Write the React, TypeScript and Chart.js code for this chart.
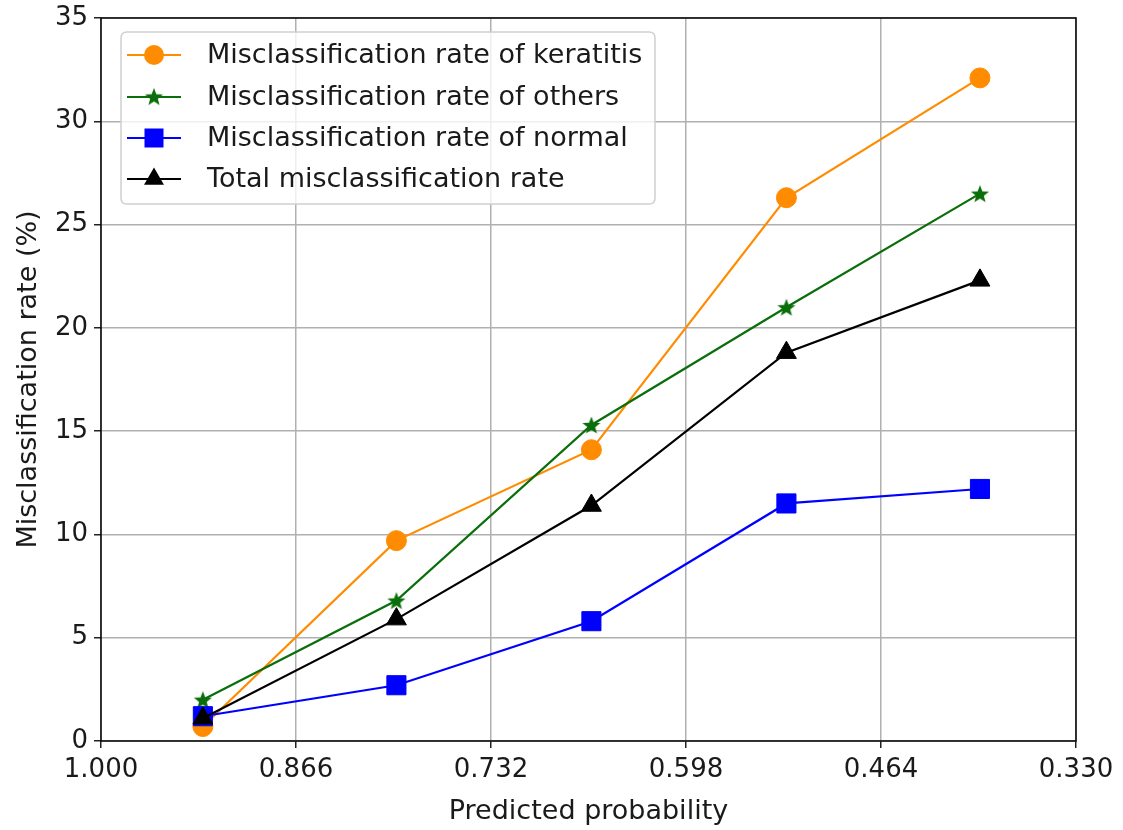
import React, { useEffect, useRef } from "react";
import { Chart, registerables } from "chart.js";

Chart.register(...registerables);

const probabilities = [0.93, 0.797, 0.663, 0.529, 0.396];
const keratitisRate = [0.7, 9.7, 14.1, 26.3, 32.1];
const othersRate = [2.0, 6.8, 15.3, 21.0, 26.5];
const normalRate = [1.2, 2.7, 5.8, 11.5, 12.2];
const totalRate = [1.1, 5.9, 11.4, 18.8, 22.3];
const xTicks = [1.0, 0.866, 0.732, 0.598, 0.464, 0.33];
const seriesNames = [
  "Misclassification rate of keratitis",
  "Misclassification rate of others",
  "Misclassification rate of normal",
  "Total misclassification rate",
];

const FONT = "'DejaVu Sans', sans-serif";
const ORANGE = "#ff8c00";
const GREEN = "#0a6e0a";
const BLUE = "#0000ff";
const BLACK = "#000000";
const TEXT = "#1a1a1a";

function makeStar(color: string, size: number) {
  const c = document.createElement("canvas");
  c.width = size;
  c.height = size;
  const ctx = c.getContext("2d")!;
  const cx = size / 2;
  const cy = size / 2 + 0.9;
  const R = size / 2 - 0.5;
  const r = R * 0.42;
  ctx.beginPath();
  for (let i = 0; i < 10; i++) {
    const rad = i % 2 === 0 ? R : r;
    const a = -Math.PI / 2 + (i * Math.PI) / 5;
    const px = cx + rad * Math.cos(a);
    const py = cy + rad * Math.sin(a);
    if (i === 0) ctx.moveTo(px, py);
    else ctx.lineTo(px, py);
  }
  ctx.closePath();
  ctx.fillStyle = color;
  ctx.fill();
  return c;
}

function pts(ys: number[]) {
  return probabilities.map((x, i) => ({ x, y: ys[i] }));
}

export default function App() {
  const ref = useRef<HTMLCanvasElement | null>(null);

  useEffect(() => {
    if (!ref.current) return;
    const star = makeStar(GREEN, 20);

    const markers: any[] = ["circle", star, "rect", "triangle"];
    const colors = [ORANGE, GREEN, BLUE, BLACK];
    const radii = [10, 10, 13.5, 11.5];

    const framePlugin = {
      id: "frameLegend",
      afterDatasetsDraw(chart: any) {
        const { ctx, chartArea } = chart;
        ctx.save();
        ctx.strokeStyle = "#000";
        ctx.lineWidth = 1.5;
        ctx.strokeRect(
          chartArea.left,
          chartArea.top,
          chartArea.right - chartArea.left,
          chartArea.bottom - chartArea.top
        );
        // legend
        const bx = 121, by = 32, bw = 534, bh = 172, rr = 6;
        ctx.beginPath();
        ctx.moveTo(bx + rr, by);
        ctx.lineTo(bx + bw - rr, by);
        ctx.quadraticCurveTo(bx + bw, by, bx + bw, by + rr);
        ctx.lineTo(bx + bw, by + bh - rr);
        ctx.quadraticCurveTo(bx + bw, by + bh, bx + bw - rr, by + bh);
        ctx.lineTo(bx + rr, by + bh);
        ctx.quadraticCurveTo(bx, by + bh, bx, by + bh - rr);
        ctx.lineTo(bx, by + rr);
        ctx.quadraticCurveTo(bx, by, bx + rr, by);
        ctx.closePath();
        ctx.fillStyle = "rgba(255,255,255,0.8)";
        ctx.fill();
        ctx.strokeStyle = "#d0d0d0";
        ctx.lineWidth = 1.5;
        ctx.stroke();
        const rowY = [55, 97, 138, 179];
        const mx = 154;
        for (let i = 0; i < 4; i++) {
          const y = rowY[i];
          ctx.strokeStyle = colors[i];
          ctx.lineWidth = 2;
          ctx.beginPath();
          ctx.moveTo(127, y);
          ctx.lineTo(181, y);
          ctx.stroke();
          ctx.fillStyle = colors[i];
          if (i === 0) {
            ctx.beginPath();
            ctx.arc(mx, y, 10, 0, Math.PI * 2);
            ctx.fill();
          } else if (i === 1) {
            ctx.drawImage(star, mx - 10, y - 10.5);
          } else if (i === 2) {
            ctx.fillRect(mx - 9.5, y - 9.5, 19, 19);
          } else {
            const r = 11.5;
            ctx.beginPath();
            ctx.moveTo(mx, y - r);
            ctx.lineTo(mx + r * Math.sin((2 * Math.PI) / 3), y - r * Math.cos((2 * Math.PI) / 3));
            ctx.lineTo(mx + r * Math.sin((4 * Math.PI) / 3), y - r * Math.cos((4 * Math.PI) / 3));
            ctx.closePath();
            ctx.fill();
          }
          ctx.fillStyle = TEXT;
          ctx.font = `27px ${FONT}`;
          ctx.textBaseline = "middle";
          ctx.textAlign = "left";
          ctx.fillText(seriesNames[i], 207, y + 1);
        }
        ctx.restore();
      },
    };

    const datasets = [keratitisRate, othersRate, normalRate, totalRate].map((ys, i) => ({
      label: seriesNames[i],
      data: pts(ys),
      borderColor: colors[i],
      backgroundColor: colors[i],
      borderWidth: 2.2,
      pointStyle: markers[i],
      pointRadius: radii[i],
      pointBorderWidth: 1,
      pointBorderColor: colors[i],
      pointBackgroundColor: colors[i],
      order: 4 - i,
      tension: 0,
    }));

    const chart = new Chart(ref.current, {
      type: "line",
      data: { datasets },
      plugins: [framePlugin],
      options: {
        animation: false,
        responsive: false,
        maintainAspectRatio: false,
        layout: { padding: { left: 0, right: 47, top: 18, bottom: 0 } },
        plugins: {
          legend: { display: false },
          tooltip: { enabled: false },
        },
        scales: {
          x: {
            type: "linear",
            reverse: true,
            min: 0.33,
            max: 1.0,
            afterBuildTicks: (axis: any) => {
              axis.ticks = xTicks.map((v) => ({ value: v }));
            },
            afterFit: (axis: any) => {
              axis.height = 89;
              axis.paddingLeft = 0;
              axis.paddingRight = 0;
            },
            ticks: {
              callback: (v: any) => Number(v).toFixed(3),
              font: { family: FONT, size: 26 },
              color: TEXT,
              padding: 7,
              maxRotation: 0,
              autoSkip: false,
            },
            grid: {
              color: "#b0b0b0",
              lineWidth: 1.5,
              tickColor: "#222",
              tickLength: 7,
              drawTicks: true,
            },
            border: { display: false },
            title: {
              display: true,
              text: "Predicted probability",
              font: { family: FONT, size: 27 },
              color: TEXT,
              padding: { top: 0, bottom: 2 },
            },
          },
          y: {
            type: "linear",
            min: 0,
            max: 35,
            ticks: {
              stepSize: 5,
              font: { family: FONT, size: 26 },
              color: TEXT,
              padding: 6,
            },
            afterFit: (axis: any) => {
              axis.width = 101;
              axis.paddingTop = 0;
              axis.paddingBottom = 0;
            },
            grid: {
              color: "#b0b0b0",
              lineWidth: 1.5,
              tickColor: "#222",
              tickLength: 7,
            },
            border: { display: false },
            title: {
              display: true,
              text: "Misclassification rate (%)",
              font: { family: FONT, size: 27 },
              color: TEXT,
              padding: { top: 13, bottom: 0 },
            },
          },
        },
      },
    } as any);
    return () => chart.destroy();
  }, []);

  return (
    <div style={{ position: "fixed", left: 0, top: 0, width: 1123, height: 830, background: "#fff" }}>
      <canvas ref={ref} width={1123} height={830} style={{ display: "block" }} />
    </div>
  );
}
